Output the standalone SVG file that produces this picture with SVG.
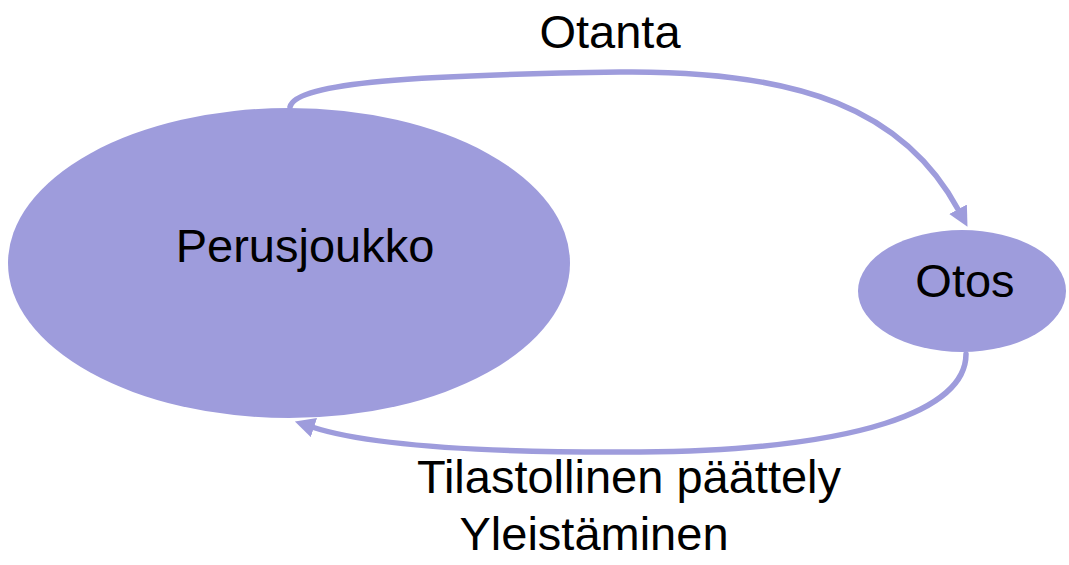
<svg xmlns="http://www.w3.org/2000/svg" width="1069" height="565" viewBox="0 0 1069 565">
  <style>
    .node { fill: #9e9cdc; }
    .lbl { font-family: "Liberation Sans", Arial, sans-serif; font-size: 47px; fill: #000; text-anchor: middle; }
    .edge { fill: none; stroke: #9e9cdc; stroke-width: 5.5; stroke-linecap: round; }
  </style>
  <defs>
    <marker id="arrow" markerUnits="userSpaceOnUse" markerWidth="22" markerHeight="22" refX="2" refY="10" orient="auto">
      <path d="M0,0 L20,10 L0,20 Z" fill="#9e9cdc"/>
    </marker>
  </defs>
  <rect width="1069" height="565" fill="#ffffff"/>

  <g id="connectors">
    <!-- sampling: population to sample -->
    <path class="edge" d="M290,107 C296,82 420,75 620,72 C800,70 905,110 959,211" marker-end="url(#arrow)"/>
    <!-- inference: sample back to population -->
    <path class="edge" d="M966,354 C966,410 860,450 640,452 C480,453 370,446 312,427" marker-end="url(#arrow)"/>
  </g>

  <g id="perusjoukko">
    <ellipse class="node" cx="289" cy="263" rx="281" ry="155"/>
    <text class="lbl" x="305" y="262">Perusjoukko</text>
  </g>

  <g id="otos">
    <ellipse class="node" cx="962" cy="291" rx="104" ry="61"/>
    <text class="lbl" x="965" y="297">Otos</text>
  </g>

  <g id="labels">
    <text class="lbl" x="610" y="48">Otanta</text>
    <text class="lbl" x="629" y="493">Tilastollinen päättely</text>
    <text class="lbl" x="594" y="550">Yleistäminen</text>
  </g>
</svg>
